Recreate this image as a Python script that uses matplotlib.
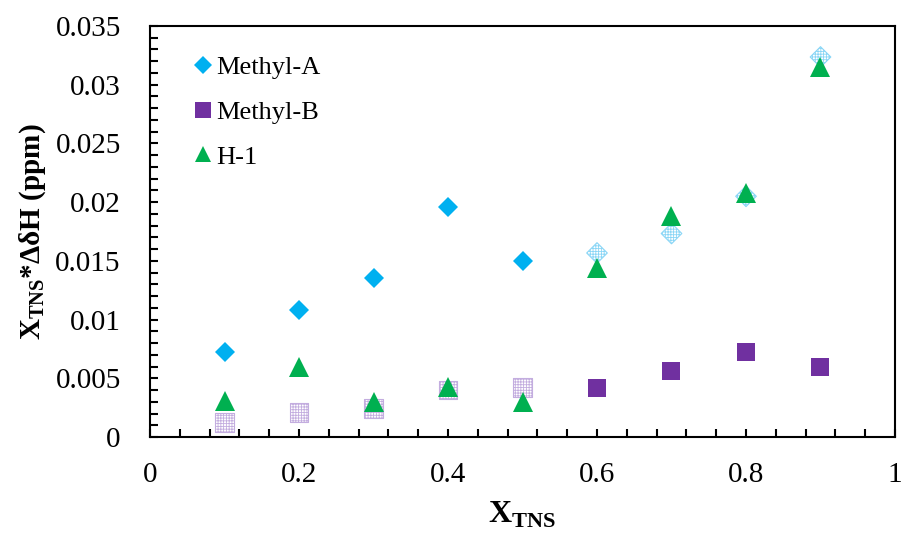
import numpy as np
import matplotlib.pyplot as plt
from matplotlib.ticker import MultipleLocator, FormatStrFormatter
from matplotlib.lines import Line2D

plt.rcParams['font.family'] = ['Liberation Serif', 'DejaVu Serif']
plt.rcParams['mathtext.fontset'] = 'custom'
plt.rcParams['mathtext.rm'] = 'Liberation Serif'
plt.rcParams['mathtext.bf'] = 'Liberation Serif:bold'
plt.rcParams['hatch.linewidth'] = 0.6

# data
x_solid_a = [0.1, 0.2, 0.3, 0.4, 0.5]
methyl_a_solid = [0.00724, 0.01082, 0.01354, 0.01959, 0.01499]
x_dot_a = [0.6, 0.7, 0.8, 0.9]
methyl_a_dot = [0.01567, 0.01733, 0.0205, 0.03236]

x_dot_b = [0.1, 0.2, 0.3, 0.4, 0.5]
methyl_b_dot = [0.00123, 0.00209, 0.00243, 0.0040, 0.00422]
x_solid_b = [0.6, 0.7, 0.8, 0.9]
methyl_b_solid = [0.00417, 0.00562, 0.00724, 0.00596]

x_h1 = [0.1, 0.2, 0.3, 0.4, 0.5, 0.6, 0.7, 0.8, 0.9]
h1 = [0.00307, 0.00596, 0.00298, 0.00426, 0.00298, 0.0144, 0.01886, 0.02078, 0.03147]

c_a = '#00B0F0'
c_b = '#7030A0'
c_h = '#00B050'

fig = plt.figure(figsize=(9.03, 5.43), dpi=100)
ax = fig.add_axes([150/903, 1-437/543, 745/903, 411/543])

# hatched (dotted) markers first, they sit behind
ax.scatter(x_dot_b, methyl_b_dot, s=13.5**2, marker='s', facecolors='none',
           edgecolors='#C3ADDF', hatch='++++++', linewidths=0.8, zorder=2)
ax.scatter(x_dot_a, methyl_a_dot, s=10.5**2, marker='D', facecolors='none',
           edgecolors='#8AD6F6', hatch='++++++', linewidths=0.8, zorder=2)

ax.plot(x_solid_a, methyl_a_solid, 'D', color=c_a, ms=10.5, mew=0, zorder=3)
ax.plot(x_solid_b, methyl_b_solid, 's', color=c_b, ms=13.5, mew=0, zorder=3)
ax.plot(x_h1, h1, '^', color=c_h, ms=14, mew=0, zorder=4)

ax.set_xlim(0, 1)
ax.set_ylim(0, 0.035)
ax.xaxis.set_major_locator(MultipleLocator(0.2))
ax.xaxis.set_minor_locator(MultipleLocator(0.04))
ax.yaxis.set_major_locator(MultipleLocator(0.005))
ax.yaxis.set_minor_locator(MultipleLocator(0.001))
ax.xaxis.set_major_formatter(FormatStrFormatter('%g'))
ax.yaxis.set_major_formatter(FormatStrFormatter('%g'))
ax.tick_params(which='both', direction='in', length=6, width=1.5, labelsize=21)
ax.tick_params(axis='y', which='both', pad=21)
ax.tick_params(axis='x', which='both', pad=18)
for sp in ax.spines.values():
    sp.set_linewidth(1.5)

ax.set_xlabel(r'$\mathbf{X}_{\mathbf{TNS}}$', fontsize=23, labelpad=8)
ax.set_ylabel(r'$\mathbf{X}_{\mathbf{TNS}}$*ΔδH (ppm)', fontsize=21, fontweight='bold', labelpad=5)

handles = [Line2D([], [], ls='none', marker='D', color=c_a, ms=9, mew=0),
           Line2D([], [], ls='none', marker='s', color=c_b, ms=12, mew=0),
           Line2D([], [], ls='none', marker='^', color=c_h, ms=12, mew=0)]
ax.legend(handles, ['Methyl-A', 'Methyl-B', 'H-1'], loc='upper left', frameon=False,
          fontsize=19, handlelength=0.6, handletextpad=0.2, labelspacing=0.8,
          bbox_to_anchor=(0.0286, 0.985))

fig.savefig('out.png', dpi=100)
